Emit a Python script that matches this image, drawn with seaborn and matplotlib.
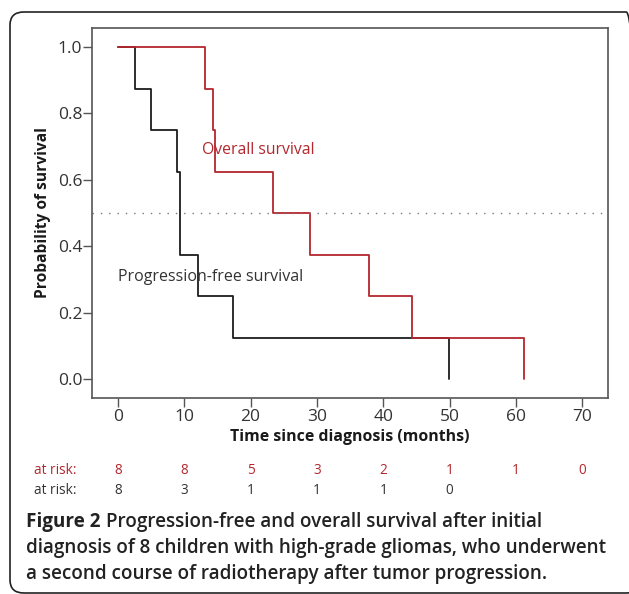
"""
Kaplan-Meier style plot: progression-free vs overall survival (8 children, HGG).
"""

import matplotlib
matplotlib.use("Agg")
import matplotlib.pyplot as plt
import matplotlib.transforms as mtransforms
from matplotlib.patches import FancyBboxPatch
import seaborn as sns

# Data
os_months = [0, 13.1, 14.4, 14.6, 23.4, 29.0, 37.9, 44.4, 61.3]
os_surv = [1.0, 0.875, 0.75, 0.625, 0.5, 0.375, 0.25, 0.125, 0.0]

pfs_months = [0, 2.5, 5.0, 8.95, 9.35, 12.1, 17.3, 49.9]
pfs_surv = [1.0, 0.875, 0.75, 0.625, 0.375, 0.25, 0.125, 0.0]

risk_times = [0, 10, 20, 30, 40, 50, 60, 70]
os_at_risk = [8, 8, 5, 3, 2, 1, 1, 0]
pfs_at_risk = [8, 3, 1, 1, 1, 0]

x_ticks = [0, 10, 20, 30, 40, 50, 60, 70]
y_ticks = [0.0, 0.2, 0.4, 0.6, 0.8, 1.0]

caption_lines = [
    "Progression-free and overall survival after initial",
    "diagnosis of 8 children with high-grade gliomas, who underwent",
    "a second course of radiotherapy after tumor progression.",
]

RED = "#b3282e"
BLACK = "#1c1c1c"
TEXT = "#333333"

# Style
sns.set_theme(style="white")
plt.rcParams["font.family"] = ["Open Sans", "DejaVu Sans"]

W, H = 629, 594
fig = plt.figure(figsize=(W / 100, H / 100), dpi=100)


def fx(x):
    return x / W


def fy(y):
    return 1 - y / H


# Rounded border around the whole figure block
box = FancyBboxPatch((fx(10), fy(593)), fx(640) - fx(10), fy(12) - fy(593),
                     boxstyle="round,pad=0,rounding_size=0.022",
                     transform=fig.transFigure, facecolor="none",
                     edgecolor="#222222", linewidth=1.2, clip_on=False)
fig.patches.append(box)

ax = fig.add_axes([fx(92), fy(398), fx(607.7) - fx(92), fy(28) - fy(398)])

sns.lineplot(x=pfs_months, y=pfs_surv, drawstyle="steps-post", estimator=None,
             sort=False, color=BLACK, linewidth=1.3, ax=ax)
sns.lineplot(x=os_months, y=os_surv, drawstyle="steps-post", estimator=None,
             sort=False, color=RED, linewidth=1.3, ax=ax)

ax.axhline(0.5, color="#777777", linewidth=1.0, linestyle=(0, (1, 5)))

ax.set_xlim(-3.92, 73.86)
ax.set_ylim(-0.056, 1.057)
ax.set_xticks(x_ticks)
ax.set_yticks(y_ticks)
ax.set_yticklabels([f"{v:.1f}" for v in y_ticks])
ax.tick_params(axis="both", direction="out", length=6.5, width=1.0,
               color="#555555", labelcolor=TEXT, labelsize=12.5)
ax.tick_params(axis="y", pad=0.5)
ax.tick_params(axis="x", pad=1.5)
ax.tick_params(left=True, bottom=True)
for sp in ax.spines.values():
    sp.set_color("#555555")
    sp.set_linewidth(1.2)

ax.set_xlabel("Time since diagnosis (months)", fontsize=11.4, fontweight="bold",
              color="#1a1a1a", labelpad=3)
ax.set_ylabel("Probability of survival", fontsize=11.2, fontweight="bold",
              color="#1a1a1a", labelpad=5)

ax.text(12.6, 0.69, "Overall survival", color=RED, fontsize=11.3,
        ha="left", va="center")
ax.text(0, 0.308, "Progression-free survival", color=TEXT, fontsize=11.5,
        ha="left", va="center")

# Numbers at risk
blend = mtransforms.blended_transform_factory(ax.transData, fig.transFigure)
fig.text(fx(34), fy(470), "at risk:", color=RED, fontsize=9.8, va="center")
fig.text(fx(34), fy(490), "at risk:", color=TEXT, fontsize=9.8, va="center")
for t, n in zip(risk_times, os_at_risk):
    ax.text(t, fy(470), str(n), transform=blend, color=RED, fontsize=9.8,
            ha="center", va="center", clip_on=False)
for t, n in zip(risk_times, pfs_at_risk):
    ax.text(t, fy(490), str(n), transform=blend, color=TEXT, fontsize=9.8,
            ha="center", va="center", clip_on=False)

# Caption
cap_size = 13.6
t0 = fig.text(fx(26), fy(522), "Figure 2", fontsize=cap_size, fontweight="bold",
              color="#222222", va="center")
fig.canvas.draw()
bb = t0.get_window_extent()
fig.text(bb.x1 / W + fx(6), fy(522), caption_lines[0], fontsize=cap_size,
         fontweight="semibold", color="#222222", va="center")
fig.text(fx(26), fy(548), caption_lines[1], fontsize=cap_size,
         fontweight="semibold", color="#222222", va="center")
fig.text(fx(26), fy(574), caption_lines[2], fontsize=cap_size,
         fontweight="semibold", color="#222222", va="center")

fig.savefig("out.png", dpi=100)
plt.close(fig)
